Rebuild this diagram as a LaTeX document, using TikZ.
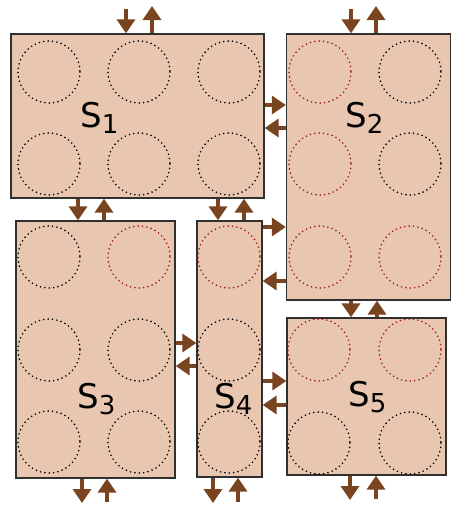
\documentclass[tikz,border=0pt]{standalone}
\usepackage{fontspec}
\setmainfont{DejaVu Sans}
\usetikzlibrary{arrows.meta}
\definecolor{arr}{HTML}{7A4420}
\definecolor{boxfill}{HTML}{E8C6B0}
\definecolor{boxline}{HTML}{303030}
\definecolor{dotred}{HTML}{A01818}
\tikzset{
  sbox/.style={draw=boxline, fill=boxfill, line width=1.3pt, inner sep=0pt, rectangle},
  flow/.style={draw=arr, line width=3.6pt, -{Triangle[width=18pt,length=14pt]}},
  dotc/.style={draw=black, line width=1.8pt, line cap=round, dash pattern=on 0pt off 4.4pt},
  dotr/.style={dotc, draw=dotred},
  lab/.style={anchor=base west, inner sep=0pt}
}
\newcommand{\slab}[1]{{\fontsize{34}{34}\selectfont S}{\fontsize{26}{26}\selectfont\raisebox{-6pt}{#1}}}
\begin{document}
\begin{tikzpicture}[x=1pt,y=-1pt]
\useasboundingbox (0,0) rectangle (452,506);
% boxes
\node[sbox, minimum width=253pt, minimum height=164pt] (s1) at (137.5,116) {};
\node[sbox, minimum width=164pt, minimum height=266pt] (s2) at (368.5,167) {};
\node[sbox, minimum width=159pt, minimum height=257pt] (s3) at (95.5,349.5) {};
\node[sbox, minimum width=65pt, minimum height=256pt] (s4) at (229.5,349) {};
\node[sbox, minimum width=159pt, minimum height=157pt] (s5) at (366.5,396.5) {};
% circles S1
\foreach \x in {49,139,229} \foreach \y in {72,164} \draw[dotc] (\x,\y) circle[radius=31];
% circles S2
\foreach \y in {72,164,257} \draw[dotr] (320,\y) circle[radius=31];
\draw[dotc] (410,72) circle[radius=31];
\draw[dotc] (410,164) circle[radius=31];
\draw[dotr] (410,257) circle[radius=31];
% circles S3
\draw[dotc] (49,257) circle[radius=31];
\draw[dotr] (139,257) circle[radius=31];
\foreach \y in {350,442} {\draw[dotc] (49,\y) circle[radius=31]; \draw[dotc] (139,\y) circle[radius=31];}
% circles S4
\draw[dotr] (229,257) circle[radius=31];
\draw[dotc] (229,350) circle[radius=31];
\draw[dotc] (229,442) circle[radius=31];
% circles S5
\draw[dotr] (319,350) circle[radius=31];
\draw[dotr] (410,350) circle[radius=31];
\draw[dotc] (319,443) circle[radius=31];
\draw[dotc] (410,443) circle[radius=31];
% labels
\node[lab] (l1) at (80,127) {\slab{1}};
\node[lab] (l2) at (345,127.5) {\slab{2}};
\node[lab] (l3) at (77,408) {\slab{3}};
\node[lab] (l4) at (214,408) {\slab{4}};
\node[lab] (l5) at (348,406) {\slab{5}};
% free ends
\coordinate (t1in) at (126,9);
\coordinate (t1out) at (152,6);
\coordinate (t2in) at (351,9);
\coordinate (t2out) at (376,6);
\coordinate (b3out) at (82,503);
\coordinate (b3in) at (107,502);
\coordinate (b4out) at (213,503);
\coordinate (b4in) at (238,502);
\coordinate (b5out) at (350,500);
\coordinate (b5in) at (376,499);
% arrows top
\draw[flow] (t1in) -- (126,0 |- s1.north);
\draw[flow] (152,0 |- s1.north) -- (t1out);
\draw[flow] (t2in) -- (351,0 |- s2.north);
\draw[flow] (376,0 |- s2.north) -- (t2out);
% S1 - S3
\draw[flow] (78,0 |- s1.south) -- (78,0 |- s3.north);
\draw[flow] (104,0 |- s3.north) -- (104,0 |- s1.south);
% S1 - S4
\draw[flow] (218,0 |- s1.south) -- (218,0 |- s4.north);
\draw[flow] (244,0 |- s4.north) -- (244,0 |- s1.south);
% S1 - S2
\draw[flow] (s1.east |- 0,105) -- (s2.west |- 0,105);
\draw[flow] (s2.west |- 0,128) -- (s1.east |- 0,128);
% S4 - S2
\draw[flow] (s4.east |- 0,227) -- (s2.west |- 0,227);
\draw[flow] (s2.west |- 0,281) -- (s4.east |- 0,281);
% S2 - S5
\draw[flow] (351,0 |- s2.south) -- (351,0 |- s5.north);
\draw[flow] (377,0 |- s5.north) -- (377,0 |- s2.south);
% S3 - S4
\draw[flow] (s3.east |- 0,343) -- (s4.west |- 0,343);
\draw[flow] (s4.west |- 0,366) -- (s3.east |- 0,366);
% S4 - S5
\draw[flow] (s4.east |- 0,381) -- (s5.west |- 0,381);
\draw[flow] (s5.west |- 0,405) -- (s4.east |- 0,405);
% bottoms
\draw[flow] (82,0 |- s3.south) -- (b3out);
\draw[flow] (b3in) -- (107,0 |- s3.south);
\draw[flow] (213,0 |- s4.south) -- (b4out);
\draw[flow] (b4in) -- (238,0 |- s4.south);
\draw[flow] (350,0 |- s5.south) -- (b5out);
\draw[flow] (b5in) -- (376,0 |- s5.south);
\end{tikzpicture}
\end{document}
